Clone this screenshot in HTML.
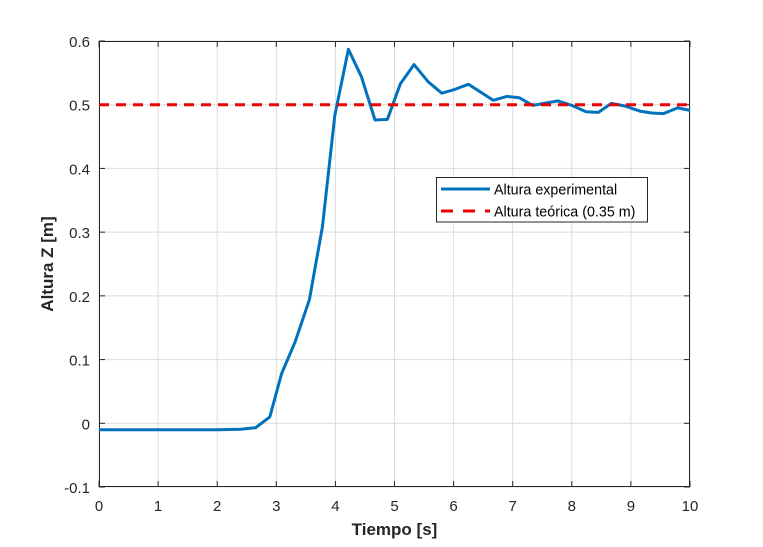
<!DOCTYPE html>
<html><head><meta charset="utf-8"><style>
html,body{margin:0;padding:0;background:#fff;}
svg{display:block;font-family:"Liberation Sans",Arial,sans-serif;}
</style></head><body>
<svg id="chart" width="763" height="547" viewBox="0 0 763 547">
<rect x="0" y="0" width="763" height="547" fill="#fff"/>
<g id="grid"></g>
<g id="axes"></g>
<g id="series"></g>
<g id="legend">
  <rect x="436.5" y="177.5" width="211" height="44.5" fill="#fff" stroke="#262626" stroke-width="1"/>
  <line x1="441" y1="189" x2="490" y2="189" stroke="#0072BD" stroke-width="3"/>
  <text x="494" y="194.5" font-size="14.3" fill="#000">Altura experimental</text>
  <line x1="441" y1="211" x2="490" y2="211" stroke="#e00" stroke-width="3" stroke-dasharray="12,10"/>
  <text x="494" y="216.5" font-size="14.3" fill="#000">Altura teórica (0.35 m)</text>
</g>
<text x="394.5" y="535" font-size="17" font-weight="bold" text-anchor="middle" fill="#262626">Tiempo [s]</text>
<text transform="translate(53,264) rotate(-90)" font-size="17" font-weight="bold" text-anchor="middle" fill="#262626">Altura Z [m]</text>
</svg>
<script>
const xTicks=[0,1,2,3,4,5,6,7,8,9,10];
const yTicks=[-0.1,0,0.1,0.2,0.3,0.4,0.5,0.6];
const yTickLabels=["-0.1","0","0.1","0.2","0.3","0.4","0.5","0.6"];
const times=[0,0.5,1,1.5,2,2.4,2.65,2.89,3.09,3.32,3.56,3.78,3.99,4.22,4.44,4.67,4.88,5.1,5.33,5.57,5.8,6.02,6.25,6.67,6.9,7.11,7.34,7.77,8.0,8.24,8.45,8.67,8.9,9.15,9.35,9.55,9.79,10];
const heights=[-0.01,-0.01,-0.01,-0.01,-0.01,-0.0095,-0.007,0.01,0.078,0.128,0.194,0.308,0.483,0.587,0.544,0.476,0.477,0.533,0.563,0.536,0.518,0.524,0.532,0.507,0.513,0.511,0.499,0.506,0.499,0.489,0.488,0.502,0.498,0.490,0.487,0.486,0.495,0.491];
const reference=[0.5];
const L=99,R=690,T=41,B=487,X0=0,X1=10,Y0=-0.1,Y1=0.6;
const sx=v=>L+(v-X0)/(X1-X0)*(R-L);
const sy=v=>B-(v-Y0)/(Y1-Y0)*(B-T);
const NS="http://www.w3.org/2000/svg";
function mk(tag,attrs,parent){const e=document.createElementNS(NS,tag);for(const k in attrs)e.setAttribute(k,attrs[k]);parent.appendChild(e);return e;}
const grid=document.getElementById('grid'),axes=document.getElementById('axes'),series=document.getElementById('series');
mk('rect',{x:L,y:T,width:R-L,height:B-T,fill:'#fff'},grid);
xTicks.forEach(t=>{
 const g=mk('line',{x1:sx(t),x2:sx(t),y1:T,y2:B,stroke:'#dcdcdc','stroke-width':1},grid);
 
 
 mk('line',{x1:sx(t),x2:sx(t),y1:B,y2:B-6,stroke:'#262626'},axes);
 mk('line',{x1:sx(t),x2:sx(t),y1:T,y2:T+6,stroke:'#262626'},axes);
 const tx=mk('text',{x:sx(t),y:B+24,'font-size':15,'text-anchor':'middle',fill:'#262626'},axes);
 tx.textContent=String(t);
 
 
});
yTicks.forEach((t,i)=>{
 const g=mk('line',{x1:L,x2:R,y1:sy(t),y2:sy(t),stroke:'#dcdcdc','stroke-width':1},grid);
 
 
 mk('line',{x1:L,x2:L+6,y1:sy(t),y2:sy(t),stroke:'#262626'},axes);
 mk('line',{x1:R,x2:R-6,y1:sy(t),y2:sy(t),stroke:'#262626'},axes);
 const tx=mk('text',{x:L-9,y:sy(t)+6,'font-size':15,'text-anchor':'end',fill:'#262626'},axes);
 tx.textContent=yTickLabels[i];
 
 
});
const fr=mk('rect',{x:L+0.5,y:T+0.5,width:R-L-1,height:B-T-1,fill:'none',stroke:'#262626','stroke-width':1},axes);


const pts=times.map((t,i)=>sx(t).toFixed(1)+','+sy(heights[i]).toFixed(1)).join(' ');
const ln=mk('polyline',{points:pts,fill:'none',stroke:'#0072BD','stroke-width':3,'stroke-linejoin':'round'},series);


const rl=mk('line',{x1:sx(X0),x2:sx(X1),y1:sy(reference[0]),y2:sy(reference[0]),stroke:'#e00','stroke-width':3,'stroke-dasharray':'10,7'},series);


</script>
</body></html>
